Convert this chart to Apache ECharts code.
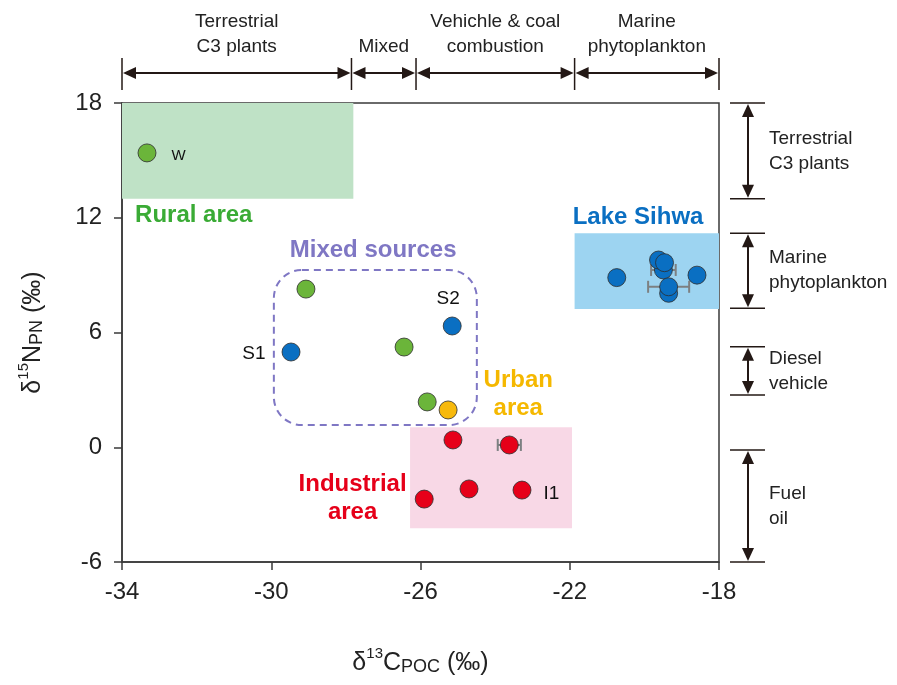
<!DOCTYPE html>
<html>
<head>
<meta charset="utf-8">
<script src="https://cdn.jsdelivr.net/npm/echarts@6/dist/echarts.min.js"></script>
<style>
  html, body { margin: 0; padding: 0; background: #fff; }
  #chart { width: 897px; height: 685px; }
</style>
</head>
<body>
<div id="chart"></div>
<script>
// ---- Stable isotope values (‰): x = δ13C of POC, y = δ15N of PN ----
const ruralX = [-33.33, -29.07, -26.44, -25.82];
const ruralY = [15.39, 8.27, 5.24, 2.37];
const ruralNames = ['W', '', '', ''];

const streamX = [-29.47, -25.15];
const streamY = [4.98, 6.34];
const streamNames = ['S1', 'S2'];

const urbanX = [-25.26];
const urbanY = [1.95];

const industX = [-25.13, -23.62, -25.90, -24.70, -23.28];
const industY = [0.38, 0.12, -2.71, -2.18, -2.24];
const industNames = ['', '', '', '', 'I1'];

const sihwaX = [-20.74, -18.59, -19.49, -19.62, -19.46, -19.35, -19.35];
const sihwaY = [8.87, 9.00, 9.27, 9.79, 9.65, 8.05, 8.39];

// horizontal standard deviation of δ13C for replicated samples
const sdX = [-23.62, -19.49, -19.35];
const sdY = [0.12, 9.27, 8.39];
const sdVal = [0.31, 0.33, 0.55];

// ---- Axis ticks ----
const xTicks = [-34, -30, -26, -22, -18];
const yTicks = [-6, 0, 6, 12, 18];

// ---- Source end-member ranges ----
const xSourceNames = ['Terrestrial\nC3 plants', 'Mixed', 'Vehichle & coal\ncombustion', 'Marine\nphytoplankton'];
const xSourceBounds = [-34, -27.85, -26.12, -21.87, -18];

const ySourceNames = ['Terrestrial\nC3 plants', 'Marine\nphytoplankton', 'Diesel\nvehicle', 'Fuel\noil'];
const ySourceLo = [13.0, 7.27, 2.73, -6.0];
const ySourceHi = [18.0, 11.19, 5.26, -0.14];

// ---- Land-use regions (shaded boxes) ----
const regionNames = ['Rural area', 'Lake Sihwa', 'Industrial area'];
const regionX0 = [-34, -21.87, -26.28];
const regionX1 = [-27.8, -18, -21.94];
const regionY0 = [13.0, 7.23, -4.24];
const regionY1 = [18, 11.19, 1.04];

// mixed-source envelope
const mixedBox = { x0: -29.93, x1: -24.49, y0: 1.16, y1: 9.27 };

// ---- Styling ----
const FONT = '"Liberation Sans Narrow", "Arial Narrow", "Liberation Sans", Arial, sans-serif';
const INK = '#231815';
const AXIS = '#3a3a3a';
const GREEN = '#6bb53a';
const BLUE = '#0a6fc2';
const ORANGE = '#f7b90c';
const RED = '#e60019';
const regionFill = ['#bfe2c6', '#9dd4f1', '#f8d8e6'];
const labelPos = {
  W: { position: 'right', distance: 15, offset: [0, 3], fontSize: 15 },
  S1: { position: 'left', distance: 16, offset: [0, 2], fontSize: 19 },
  S2: { position: 'top', distance: 8, offset: [-4, 0], fontSize: 19 },
  I1: { position: 'right', distance: 12, offset: [0, 4], fontSize: 19 }
};

function points(xs, ys, names) {
  return xs.map((x, i) => {
    const item = { value: [x, ys[i]] };
    const n = names ? names[i] : '';
    if (n) {
      const p = labelPos[n];
      item.label = {
        show: true, formatter: n, position: p.position, distance: p.distance,
        offset: p.offset, color: '#111', fontSize: p.fontSize, fontFamily: FONT
      };
    }
    return item;
  });
}

function scatter(name, xs, ys, color, names) {
  return {
    name, type: 'scatter', z: 5, symbolSize: 18,
    itemStyle: { color, opacity: 1, borderColor: 'rgba(45,45,45,0.8)', borderWidth: 1 },
    data: points(xs, ys, names)
  };
}

const chart = echarts.init(document.getElementById('chart'), null, { renderer: 'canvas' });

const richName = {
  m: { fontSize: 25, fontFamily: FONT, color: '#222', verticalAlign: 'bottom', lineHeight: 30 },
  sup: { fontSize: 15, fontFamily: FONT, color: '#222', verticalAlign: 'top', lineHeight: 16 },
  sc: { fontSize: 18, fontFamily: FONT, color: '#222', verticalAlign: 'bottom', lineHeight: 25 }
};

chart.setOption({
  animation: false,
  backgroundColor: '#fff',
  grid: {
    left: 122, right: 178, top: 103, bottom: 123,
    show: true, borderColor: AXIS, borderWidth: 1.5, backgroundColor: 'transparent'
  },
  xAxis: {
    type: 'value', min: xTicks[0], max: xTicks[xTicks.length - 1], interval: xTicks[1] - xTicks[0],
    axisLine: { show: true, onZero: false, lineStyle: { color: AXIS, width: 1.5 } },
    axisTick: { show: true, length: 8, lineStyle: { color: AXIS, width: 1.5 } },
    splitLine: { show: false },
    axisLabel: { fontSize: 24, fontFamily: FONT, color: '#222', margin: 18 },
    name: '{m|δ}{sup|13}{m|C}{sc|POC}{m| (‰)}',
    nameLocation: 'middle', nameGap: 84,
    nameTextStyle: { rich: richName }
  },
  yAxis: {
    type: 'value', min: yTicks[0], max: yTicks[yTicks.length - 1], interval: yTicks[1] - yTicks[0],
    axisLine: { show: true, onZero: false, lineStyle: { color: AXIS, width: 1.5 } },
    axisTick: { show: true, length: 8, lineStyle: { color: AXIS, width: 1.5 } },
    splitLine: { show: false },
    axisLabel: { fontSize: 24, fontFamily: FONT, color: '#222', margin: 20 },
    name: '{m|δ}{sup|15}{m|N}{sc|PN}{m| (‰)}',
    nameLocation: 'middle', nameGap: 76, nameRotate: 90,
    nameTextStyle: { rich: richName }
  },
  series: [
    {
      name: 'regions', type: 'scatter', data: [], z: 1,
      markArea: {
        silent: true,
        label: { show: false },
        data: regionNames.map((n, i) => [
          { name: n, xAxis: regionX0[i], yAxis: regionY0[i], itemStyle: { color: regionFill[i], opacity: 1 } },
          { xAxis: regionX1[i], yAxis: regionY1[i] }
        ])
      }
    },
    {
      name: 'sd', type: 'custom', z: 4,
      data: sdX.map((x, i) => [x, sdY[i], sdVal[i]]),
      renderItem: function (params, api) {
        const c = api.coord([api.value(0), api.value(1)]);
        const l = api.coord([api.value(0) - api.value(2), api.value(1)]);
        const r = api.coord([api.value(0) + api.value(2), api.value(1)]);
        const st = { stroke: '#7d8082', lineWidth: 2, fill: null };
        const h = 6;
        return {
          type: 'group',
          children: [
            { type: 'line', shape: { x1: l[0], y1: c[1], x2: r[0], y2: c[1] }, style: st },
            { type: 'line', shape: { x1: l[0], y1: c[1] - h, x2: l[0], y2: c[1] + h }, style: st },
            { type: 'line', shape: { x1: r[0], y1: c[1] - h, x2: r[0], y2: c[1] + h }, style: st }
          ]
        };
      }
    },
    scatter('Rural', ruralX, ruralY, GREEN, ruralNames),
    scatter('Stream', streamX, streamY, BLUE, streamNames),
    scatter('Urban', urbanX, urbanY, ORANGE),
    scatter('Industrial', industX, industY, RED, industNames),
    scatter('Lake Sihwa', sihwaX, sihwaY, BLUE)
  ]
});

// ---- Annotations positioned from data coordinates ----
const toPx = (x, y) => chart.convertToPixel({ gridIndex: 0 }, [x, y]);
const g = [];

function hArrow(x1, x2, y) {
  const a = 13, w = 6;
  g.push({ type: 'line', z: 20, shape: { x1: x1 + 6, y1: y, x2: x2 - 6, y2: y }, style: { stroke: INK, lineWidth: 2 } });
  g.push({ type: 'polygon', z: 20, shape: { points: [[x1, y], [x1 + a, y - w], [x1 + a, y + w]] }, style: { fill: INK } });
  g.push({ type: 'polygon', z: 20, shape: { points: [[x2, y], [x2 - a, y - w], [x2 - a, y + w]] }, style: { fill: INK } });
}
function vArrow(x, y1, y2) {
  const a = 13, w = 6;
  g.push({ type: 'line', z: 20, shape: { x1: x, y1: y1 + 6, x2: x, y2: y2 - 6 }, style: { stroke: INK, lineWidth: 2 } });
  g.push({ type: 'polygon', z: 20, shape: { points: [[x, y1], [x - w, y1 + a], [x + w, y1 + a]] }, style: { fill: INK } });
  g.push({ type: 'polygon', z: 20, shape: { points: [[x, y2], [x - w, y2 - a], [x + w, y2 - a]] }, style: { fill: INK } });
}

// top brackets (δ13C ranges)
const arrowY = 73;
xSourceBounds.forEach(b => {
  const x = toPx(b, 0)[0];
  g.push({ type: 'line', z: 20, shape: { x1: x, y1: 58, x2: x, y2: 90 }, style: { stroke: INK, lineWidth: 1.5 } });
});
xSourceNames.forEach((n, i) => {
  const xa = toPx(xSourceBounds[i], 0)[0] + 1;
  const xb = toPx(xSourceBounds[i + 1], 0)[0] - 1;
  hArrow(xa, xb, arrowY);
  g.push({
    type: 'text', z: 20,
    style: {
      text: n, x: (xa + xb) / 2, y: 59, align: 'center', verticalAlign: 'bottom',
      fontSize: 19, fontFamily: FONT, fill: '#222', lineHeight: 25
    }
  });
});

// right brackets (δ15N ranges)
const tickL = 730, tickR = 765, arrowX = 748;
ySourceNames.forEach((n, i) => {
  const yHi = toPx(0, ySourceHi[i])[1];
  const yLo = toPx(0, ySourceLo[i])[1];
  g.push({ type: 'line', z: 20, shape: { x1: tickL, y1: yHi, x2: tickR, y2: yHi }, style: { stroke: INK, lineWidth: 1.5 } });
  g.push({ type: 'line', z: 20, shape: { x1: tickL, y1: yLo, x2: tickR, y2: yLo }, style: { stroke: INK, lineWidth: 1.5 } });
  vArrow(arrowX, yHi + 1, yLo - 1);
  g.push({
    type: 'text', z: 20,
    style: {
      text: n, x: 769, y: (yHi + yLo) / 2, align: 'left', verticalAlign: 'middle',
      fontSize: 19, fontFamily: FONT, fill: '#222', lineHeight: 25
    }
  });
});

// mixed-source envelope
const mb0 = toPx(mixedBox.x0, mixedBox.y1);
const mb1 = toPx(mixedBox.x1, mixedBox.y0);
g.push({
  type: 'rect', z: 3,
  shape: { x: mb0[0], y: mb0[1], width: mb1[0] - mb0[0], height: mb1[1] - mb0[1], r: 28 },
  style: { fill: 'none', stroke: '#7f77c4', lineWidth: 2, lineDash: [7, 5] }
});

// group names
const groupLabels = [
  { text: 'Rural area', x: -33.65, y: 12.1, align: 'left', color: '#3aab35' },
  { text: 'Mixed sources', x: -27.27, y: 10.31, align: 'center', color: '#7f77c4' },
  { text: 'Lake Sihwa', x: -20.17, y: 12.04, align: 'center', color: BLUE },
  { text: 'Urban\narea', x: -23.38, y: 2.78, align: 'center', color: '#f5b800' },
  { text: 'Industrial\narea', x: -27.82, y: -2.65, align: 'center', color: RED }
];
groupLabels.forEach(l => {
  const p = toPx(l.x, l.y);
  g.push({
    type: 'text', z: 20,
    style: {
      text: l.text, x: p[0], y: p[1], align: l.align, verticalAlign: 'middle',
      fontSize: 24, fontWeight: 'bold', fontFamily: FONT, fill: l.color, lineHeight: 28
    }
  });
});

chart.setOption({ graphic: { elements: g } });
</script>
</body>
</html>
